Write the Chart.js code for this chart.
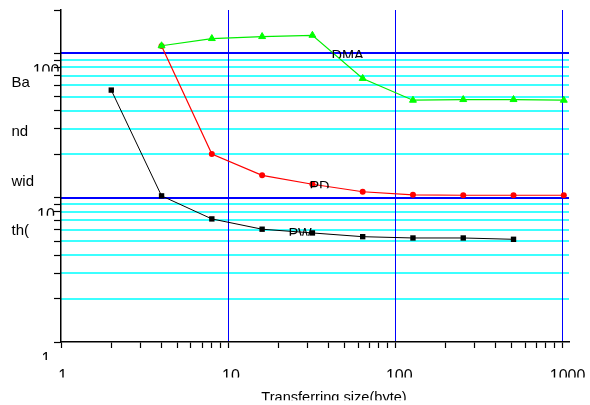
<!DOCTYPE html>
<html>
<head>
<meta charset="utf-8">
<style>
  html, body { margin: 0; padding: 0; background: #ffffff; }
  #wrap { width: 590px; height: 405px; position: relative; }
</style>
<script src="https://cdn.jsdelivr.net/npm/chart.js@4.4.0/dist/chart.umd.min.js"></script>
</head>
<body>
<div id="wrap"><canvas id="c" width="590" height="405"></canvas></div>
<script>
// ---- data ----
const sizesPW = [2, 4, 8, 16, 32, 64, 128, 256, 512];
const valuesPW = [55.7, 10.3, 7.13, 6.05, 5.70, 5.37, 5.26, 5.26, 5.15];
const sizesPD = [4, 8, 16, 32, 64, 128, 256, 512, 1024];
const valuesPD = [112.6, 20.1, 14.3, 12.4, 11.0, 10.48, 10.4, 10.4, 10.4];
const sizesDMA = [4, 8, 16, 32, 64, 128, 256, 512, 1024];
const valuesDMA = [113, 126.8, 130.9, 133.6, 67.1, 47.4, 47.9, 47.9, 47.4];
const seriesNames = ['DMA', 'PD', 'PW'];
// series name labels, anchored in data coordinates (left edge, top of text)
const nameLabelX = [41.6, 30.7, 23.0];
const nameLabelY = [105.6, 13.2, 6.18];
const xTickValues = [1, 2, 3, 4, 5, 6, 7, 8, 9, 10, 20, 30, 40, 50, 60, 70, 80, 90, 100, 200, 300, 400, 500, 600, 700, 800, 900, 1000];
const xLabelValues = [1, 10, 100, 1000];
const yTickValues = [1, 2, 3, 4, 5, 6, 7, 8, 9, 10, 20, 30, 40, 50, 60, 70, 80, 90, 100, 200];
const yLabelValues = [1, 10, 100];
const yMinorGridValues = [2, 3, 4, 5, 6, 7, 8, 9, 20, 30, 40, 50, 60, 70, 80, 90];
const yMajorGridValues = [10, 100];
const xMajorGridValues = [10, 100, 1000];
const xTitle = 'Transferring size(byte)';
const yTitleLines = ['Ba', 'nd', 'wid', 'th('];
const xMin = 1, xMax = 1100, yMin = 1, yMax = 200;

const pts = (xs, ys) => xs.map((x, i) => ({ x: x, y: ys[i] }));
const FONT = '"Liberation Sans", Arial, sans-serif';

function clippedText(ctx, text, x, capTop, size, align, clipH) {
  ctx.save();
  ctx.beginPath();
  ctx.rect(0, capTop - 3, 590, clipH + 3);
  ctx.clip();
  ctx.font = size + 'px ' + FONT;
  ctx.fillStyle = '#000';
  ctx.textAlign = align;
  ctx.textBaseline = 'alphabetic';
  ctx.fillText(text, x, capTop + 0.716 * size);
  ctx.restore();
}

const gridPlugin = {
  id: 'grids',
  beforeDraw(chart) {
    const ctx = chart.ctx, a = chart.chartArea;
    const xs = chart.scales.x, ys = chart.scales.y;
    ctx.save();
    yMinorGridValues.forEach(v => {
      const y = Math.round(ys.getPixelForValue(v));
      ctx.fillStyle = 'rgb(60,255,255)';
      ctx.fillRect(a.left, y - 1, a.right - a.left, 2);
    });
    yMajorGridValues.forEach(v => {
      const y = Math.round(ys.getPixelForValue(v));
      ctx.fillStyle = 'rgb(0,0,255)';
      ctx.fillRect(a.left, y - 1, a.right - a.left, 2);
    });
    xMajorGridValues.forEach(v => {
      const x = Math.round(xs.getPixelForValue(v));
      ctx.fillStyle = 'rgb(0,0,255)';
      ctx.fillRect(x, a.top, 1, a.bottom - a.top);
    });
    ctx.restore();
  }
};

const textPlugin = {
  id: 'texts',
  afterDraw(chart) {
    const ctx = chart.ctx;
    const xs = chart.scales.x, ys = chart.scales.y;
    yLabelValues.forEach(v => {
      const py = ys.getPixelForValue(v);
      clippedText(ctx, String(v), 46, py + 11, 16, 'center', 7);
    });
    xLabelValues.forEach(v => {
      const px = xs.getPixelForValue(v);
      const s = String(v);
      clippedText(ctx, s, px + 0.3 + 1.3 * s.length, 370, 16, 'center', 7.5);
    });
    clippedText(ctx, xTitle, 334, 391.7, 14.6, 'center', 8.5);
    ctx.save();
    ctx.font = '15px ' + FONT;
    ctx.fillStyle = '#000';
    ctx.textAlign = 'left';
    ctx.textBaseline = 'alphabetic';
    yTitleLines.forEach((t, i) => ctx.fillText(t, 11.5, 86.7 + i * 49.5));
    ctx.restore();
    seriesNames.forEach((n, i) => {
      const px = xs.getPixelForValue(nameLabelX[i]);
      const py = ys.getPixelForValue(nameLabelY[i]);
      clippedText(ctx, n, px, py, 14.5, 'left', 8);
    });
  }
};

new Chart(document.getElementById('c'), {
  type: 'line',
  data: {
    datasets: [
      { label: 'DMA', data: pts(sizesDMA, valuesDMA), borderColor: '#00ee00', backgroundColor: '#00ff00',
        pointStyle: 'triangle', pointRadius: 4, pointBorderWidth: 1, pointBorderColor: '#00ff00', borderWidth: 1.2, tension: 0 },
      { label: 'PD', data: pts(sizesPD, valuesPD), borderColor: '#ff0000', backgroundColor: '#ff0000',
        pointStyle: 'circle', pointRadius: 3, pointBorderWidth: 0, borderWidth: 1.2, tension: 0 },
      { label: 'PW', data: pts(sizesPW, valuesPW), borderColor: '#000000', backgroundColor: '#000000',
        pointStyle: 'rect', pointRadius: 3.8, pointBorderWidth: 0, borderWidth: 1, tension: 0 }
    ]
  },
  options: {
    responsive: false,
    animation: false,
    events: [],
    layout: { padding: { left: 0, right: 21, top: 10, bottom: 0 } },
    plugins: { legend: { display: false }, title: { display: false }, tooltip: { enabled: false } },
    scales: {
      x: {
        type: 'logarithmic', min: xMin, max: xMax, bounds: 'data',
        afterBuildTicks(scale) { scale.ticks = xTickValues.map(v => ({ value: v })); },
        afterFit(scale) { scale.height = 63; },
        ticks: { display: false },
        grid: { drawOnChartArea: false, drawTicks: true, tickLength: 6, color: '#000', tickColor: '#000', tickWidth: 1.2 },
        border: { display: true, color: '#000', width: 1.5 }
      },
      y: {
        type: 'logarithmic', min: yMin, max: yMax, bounds: 'data',
        afterBuildTicks(scale) { scale.ticks = yTickValues.map(v => ({ value: v })); },
        afterFit(scale) { scale.width = 61; },
        ticks: { display: false },
        grid: { drawOnChartArea: false, drawTicks: true, tickLength: 7, color: '#000', tickColor: '#000', tickWidth: 1.2 },
        border: { display: true, color: '#000', width: 1.5 }
      }
    }
  },
  plugins: [gridPlugin, textPlugin]
});
</script>
</body>
</html>
